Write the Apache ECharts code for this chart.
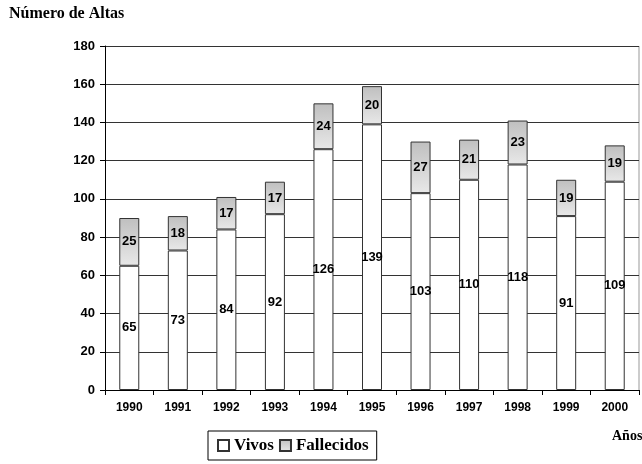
<!DOCTYPE html>
<html>
<head>
<meta charset="utf-8">
<script src="https://cdn.jsdelivr.net/npm/echarts@6/dist/echarts.min.js"></script>
<style>
  html, body { margin: 0; padding: 0; background: #fff; }
  #chart { width: 642px; height: 464px; }
</style>
</head>
<body>
<div id="chart"></div>
<script>
const years = ['1990', '1991', '1992', '1993', '1994', '1995', '1996', '1997', '1998', '1999', '2000']
const vivos = [65, 73, 84, 92, 126, 139, 103, 110, 118, 91, 109]
const fallecidos = [25, 18, 17, 17, 24, 20, 27, 21, 23, 19, 19]

const arial = 'Arial, "Liberation Sans", sans-serif'
const times = '"Times New Roman", "Liberation Serif", serif'

const myChart = echarts.init(document.getElementById('chart'))
myChart.setOption({
    animation: false,
    graphic: [
        { type: 'text', left: 9, top: 6, style: { text: 'Número de Altas', font: 'bold 16px ' + times, fill: '#000' } },
        { type: 'text', left: 612, top: 429, style: { text: 'Años', font: 'bold 14px ' + times, fill: '#000' } },
        // right edge of the plot area
        { type: 'line', shape: { x1: 639, y1: 46, x2: 639, y2: 390 }, style: { stroke: '#999', lineWidth: 1 } }
    ],
    legend: {
        left: 208,
        top: 431,
        itemWidth: 11,
        itemHeight: 11,
        itemGap: 5,
        padding: [6, 8, 6, 9],
        borderColor: '#000',
        borderWidth: 1,
        icon: 'rect',
        textStyle: { fontFamily: times, fontWeight: 'bold', fontSize: 17, color: '#000' },
        data: ['Vivos', 'Fallecidos']
    },
    grid: { left: 105, right: 3, top: 46, bottom: 74 },
    xAxis: {
        type: 'category',
        data: years,
        axisLine: { lineStyle: { color: '#000' } },
        axisTick: { show: true, length: 5, lineStyle: { color: '#000' } },
        axisLabel: { fontFamily: arial, fontWeight: 'bold', fontSize: 12, color: '#000', margin: 12 }
    },
    yAxis: {
        type: 'value',
        min: 0,
        max: 180,
        interval: 20,
        axisLine: { show: true, lineStyle: { color: '#000' } },
        axisTick: { show: true, length: 5, lineStyle: { color: '#000' } },
        axisLabel: { fontFamily: arial, fontWeight: 'bold', fontSize: 13, color: '#000', margin: 10 },
        splitLine: { lineStyle: { color: '#333', width: 1 } }
    },
    series: [
        {
            name: 'Vivos',
            type: 'bar',
            stack: 'total',
            data: vivos,
            barWidth: 20,
            itemStyle: { color: '#fff', borderColor: '#333', borderWidth: 1 },
            label: { show: true, position: 'inside', fontFamily: arial, fontWeight: 'bold', fontSize: 13, color: '#000' }
        },
        {
            name: 'Fallecidos',
            type: 'bar',
            stack: 'total',
            data: fallecidos,
            barWidth: 20,
            itemStyle: {
                color: new echarts.graphic.LinearGradient(0, 0, 0, 1, [
                    { offset: 0, color: '#bfbfbf' },
                    { offset: 1, color: '#e8e8e8' }
                ]),
                borderColor: '#333',
                borderWidth: 1
            },
            label: { show: true, position: 'inside', fontFamily: arial, fontWeight: 'bold', fontSize: 13, color: '#000' }
        }
    ]
})
</script>
</body>
</html>
